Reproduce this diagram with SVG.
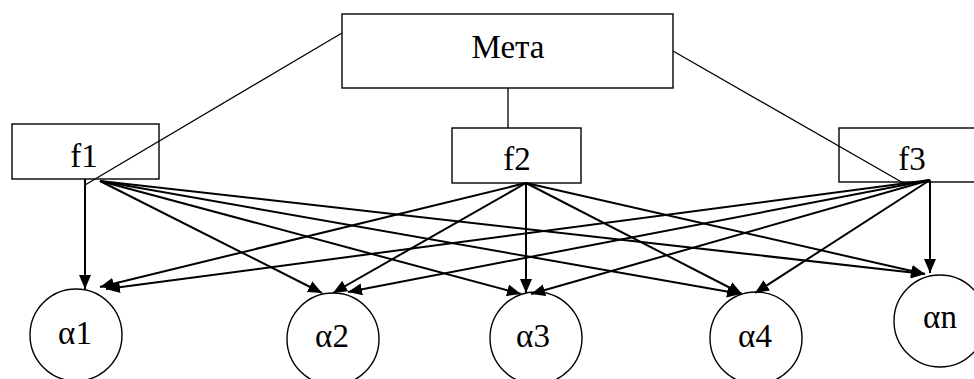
<svg xmlns="http://www.w3.org/2000/svg" width="974" height="379" viewBox="0 0 974 379">
<style>
.box{fill:#fff;stroke:#000;stroke-width:1.4}
.node-c{fill:#fff;stroke:#000;stroke-width:1.4}
.ln{stroke:#000;stroke-width:1.3;fill:none}
.ar{stroke:#000;stroke-width:2;fill:none;marker-end:url(#ah)}
.t{font-family:"Liberation Serif","DejaVu Serif",serif;font-size:33px;text-anchor:middle;fill:#000}
</style>
<defs>
<marker id="ah" markerUnits="userSpaceOnUse" markerWidth="16" markerHeight="12" refX="14" refY="6" orient="auto">
<path d="M0,0 L14,6 L0,12 Z" fill="#000"/>
</marker>
</defs>
<rect width="974" height="379" fill="#fff"/>
<g id="alpha1"><circle class="node-c" cx="76" cy="335" r="46"/><text class="t" x="75" y="344">α1</text></g>
<g id="alpha2"><circle class="node-c" cx="333" cy="339" r="46"/><text class="t" x="332" y="347">α2</text></g>
<g id="alpha3"><circle class="node-c" cx="536" cy="338" r="46"/><text class="t" x="533" y="347">α3</text></g>
<g id="alpha4"><circle class="node-c" cx="756" cy="338" r="46"/><text class="t" x="755" y="347">α4</text></g>
<g id="alphan"><circle class="node-c" cx="940" cy="321" r="46"/><text class="t" x="940" y="328">αn</text></g>
<g id="meta"><rect class="box" x="342" y="14" width="331" height="74"/><text class="t" x="508" y="58">Мета</text></g>
<g id="f1"><rect class="box" x="12" y="124" width="147" height="55"/><text class="t" x="84" y="167">f1</text></g>
<g id="f2"><rect class="box" x="452" y="128" width="129" height="55"/><text class="t" x="517" y="170">f2</text></g>
<g id="f3"><rect class="box" x="839" y="128" width="145" height="54"/><text class="t" x="912" y="170">f3</text></g>
<g id="connectors">
<line class="ln" x1="342" y1="33" x2="85" y2="185"/>
<line class="ln" x1="508" y1="88" x2="508" y2="128"/>
<line class="ln" x1="673" y1="51" x2="905" y2="184"/>
<line class="ar" x1="85" y1="179" x2="85" y2="289"/>
<line class="ar" x1="100" y1="181" x2="322" y2="293"/>
<line class="ar" x1="100" y1="181" x2="521" y2="294"/>
<line class="ar" x1="100" y1="181" x2="741" y2="294"/>
<line class="ar" x1="100" y1="181" x2="925" y2="274"/>
<line class="ar" x1="526" y1="183" x2="100" y2="287"/>
<line class="ar" x1="526" y1="183" x2="333" y2="293"/>
<line class="ar" x1="526" y1="183" x2="526" y2="293"/>
<line class="ar" x1="526" y1="183" x2="742" y2="294"/>
<line class="ar" x1="526" y1="183" x2="925" y2="274"/>
<line class="ar" x1="930" y1="180" x2="106" y2="289"/>
<line class="ar" x1="930" y1="180" x2="348" y2="292"/>
<line class="ar" x1="930" y1="180" x2="531" y2="294"/>
<line class="ar" x1="930" y1="180" x2="755" y2="293"/>
<line class="ar" x1="930" y1="180" x2="930" y2="273"/>
</g>
</svg>
